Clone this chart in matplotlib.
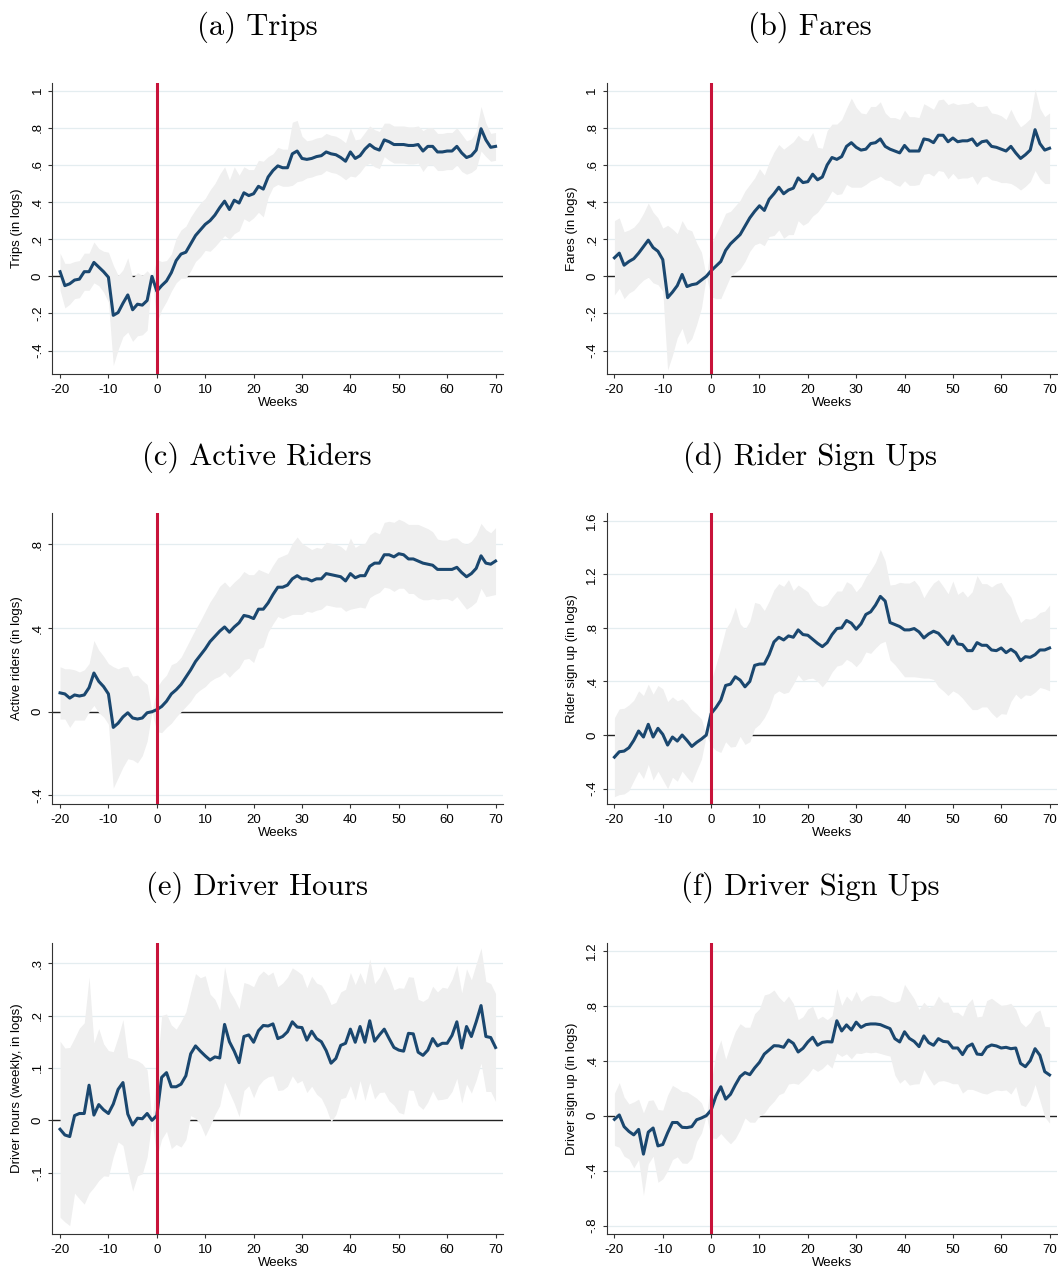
import numpy as np
import matplotlib
matplotlib.use("Agg")
import matplotlib.pyplot as plt

weeks = np.arange(-20, 71)

# (a) trips
trips_est = [0.025, -0.05, -0.04, -0.02, -0.015, 0.025, 0.025, 0.075, 0.05, 0.025,
             -0.005, -0.21, -0.195, -0.145, -0.10, -0.18, -0.15, -0.155, -0.13, 0.0,
             -0.08, -0.05, -0.025, 0.02, 0.085, 0.12, 0.13, 0.175, 0.22, 0.25,
             0.28, 0.30, 0.33, 0.37, 0.405, 0.36, 0.41, 0.395, 0.45, 0.435,
             0.445, 0.485, 0.47, 0.535, 0.57, 0.595, 0.585, 0.585, 0.66, 0.675,
             0.635, 0.63, 0.635, 0.645, 0.65, 0.67, 0.66, 0.655, 0.64, 0.62,
             0.67, 0.635, 0.65, 0.685, 0.71, 0.69, 0.68, 0.735, 0.725, 0.71,
             0.71, 0.71, 0.705, 0.705, 0.71, 0.675, 0.70, 0.70, 0.67, 0.67,
             0.675, 0.675, 0.70, 0.665, 0.64, 0.65, 0.68, 0.795, 0.735, 0.695,
             0.70]
trips_hw = [0.10, 0.12, 0.11, 0.10, 0.10, 0.10, 0.10, 0.11, 0.10, 0.11,
            0.135, 0.27, 0.20, 0.18, 0.20, 0.17, 0.17, 0.16, 0.16, 0.0,
            0.17, 0.13, 0.11, 0.10, 0.12, 0.13, 0.14, 0.145, 0.14, 0.145,
            0.14, 0.165, 0.17, 0.18, 0.185, 0.16, 0.18, 0.15, 0.14, 0.14,
            0.13, 0.14, 0.15, 0.11, 0.09, 0.10, 0.10, 0.10, 0.17, 0.165,
            0.12, 0.10, 0.10, 0.10, 0.10, 0.10, 0.10, 0.10, 0.10, 0.10,
            0.13, 0.10, 0.09, 0.09, 0.10, 0.10, 0.10, 0.09, 0.10, 0.10,
            0.10, 0.10, 0.10, 0.10, 0.10, 0.11, 0.10, 0.10, 0.10, 0.10,
            0.10, 0.10, 0.10, 0.10, 0.09, 0.09, 0.10, 0.12, 0.09, 0.075,
            0.075]

# (b) fares
fares_est = [0.10, 0.125, 0.06, 0.08, 0.095, 0.125, 0.16, 0.195, 0.155, 0.135,
             0.09, -0.115, -0.085, -0.05, 0.01, -0.055, -0.045, -0.04, -0.02, 0.0,
             0.03, 0.055, 0.08, 0.14, 0.175, 0.20, 0.225, 0.27, 0.315, 0.35,
             0.38, 0.355, 0.415, 0.445, 0.48, 0.445, 0.465, 0.475, 0.53, 0.505,
             0.51, 0.55, 0.52, 0.535, 0.60, 0.64, 0.63, 0.645, 0.70, 0.72,
             0.695, 0.68, 0.685, 0.715, 0.72, 0.74, 0.70, 0.685, 0.675, 0.665,
             0.705, 0.675, 0.675, 0.675, 0.74, 0.735, 0.72, 0.76, 0.76, 0.725,
             0.745, 0.725, 0.73, 0.73, 0.74, 0.705, 0.725, 0.73, 0.70, 0.695,
             0.685, 0.675, 0.70, 0.665, 0.635, 0.655, 0.68, 0.79, 0.715, 0.68,
             0.69]
fares_hw = [0.20, 0.19, 0.18, 0.17, 0.17, 0.17, 0.18, 0.20, 0.19, 0.18,
            0.17, 0.39, 0.34, 0.28, 0.29, 0.31, 0.29, 0.22, 0.15, 0.0,
            0.14, 0.175, 0.20, 0.20, 0.175, 0.18, 0.185, 0.19, 0.18, 0.18,
            0.20, 0.19, 0.20, 0.225, 0.23, 0.24, 0.24, 0.25, 0.23, 0.23,
            0.22, 0.225, 0.175, 0.155, 0.185, 0.18, 0.19, 0.20, 0.205, 0.24,
            0.215, 0.20, 0.19, 0.20, 0.195, 0.20, 0.18, 0.17, 0.18, 0.18,
            0.19, 0.185, 0.185, 0.18, 0.19, 0.18, 0.18, 0.19, 0.195, 0.20,
            0.19, 0.20, 0.20, 0.20, 0.20, 0.21, 0.19, 0.19, 0.18, 0.18,
            0.18, 0.17, 0.20, 0.18, 0.17, 0.17, 0.17, 0.22, 0.19, 0.18,
            0.19]

# (c) active riders
riders_est = [0.09, 0.085, 0.065, 0.08, 0.075, 0.08, 0.115, 0.185, 0.145, 0.12,
              0.085, -0.075, -0.055, -0.025, -0.005, -0.03, -0.035, -0.03, -0.005, 0.0,
              0.01, 0.025, 0.05, 0.085, 0.105, 0.13, 0.165, 0.20, 0.24, 0.27,
              0.30, 0.335, 0.36, 0.385, 0.405, 0.38, 0.405, 0.425, 0.46, 0.455,
              0.445, 0.49, 0.49, 0.52, 0.56, 0.595, 0.595, 0.605, 0.635, 0.65,
              0.635, 0.635, 0.625, 0.635, 0.635, 0.66, 0.655, 0.65, 0.645, 0.625,
              0.66, 0.64, 0.65, 0.65, 0.695, 0.71, 0.71, 0.75, 0.75, 0.74,
              0.755, 0.75, 0.73, 0.73, 0.72, 0.71, 0.705, 0.70, 0.68, 0.68,
              0.68, 0.68, 0.69, 0.665, 0.645, 0.66, 0.685, 0.745, 0.71, 0.705,
              0.72]
riders_hw = [0.125, 0.12, 0.14, 0.12, 0.115, 0.12, 0.115, 0.155, 0.15, 0.145,
             0.145, 0.29, 0.26, 0.24, 0.22, 0.20, 0.21, 0.18, 0.135, 0.0,
             0.105, 0.125, 0.125, 0.14, 0.13, 0.13, 0.14, 0.15, 0.155, 0.165,
             0.18, 0.19, 0.20, 0.215, 0.215, 0.215, 0.215, 0.215, 0.21, 0.20,
             0.21, 0.19, 0.18, 0.14, 0.14, 0.14, 0.15, 0.15, 0.17, 0.185,
             0.17, 0.155, 0.15, 0.15, 0.145, 0.15, 0.15, 0.15, 0.145, 0.145,
             0.17, 0.145, 0.15, 0.155, 0.15, 0.15, 0.14, 0.155, 0.16, 0.165,
             0.165, 0.16, 0.165, 0.165, 0.175, 0.175, 0.17, 0.16, 0.145, 0.14,
             0.14, 0.15, 0.14, 0.145, 0.155, 0.155, 0.16, 0.155, 0.16, 0.15,
             0.16]

# (d) rider sign ups
rsign_est = [-0.165, -0.125, -0.12, -0.095, -0.04, 0.03, -0.015, 0.08, -0.015, 0.05,
             0.005, -0.075, -0.015, -0.045, 0.0, -0.04, -0.085, -0.055, -0.03, 0.0,
             0.16, 0.205, 0.26, 0.37, 0.38, 0.435, 0.41, 0.36, 0.40, 0.52,
             0.53, 0.53, 0.60, 0.695, 0.73, 0.71, 0.74, 0.73, 0.785, 0.75,
             0.745, 0.715, 0.685, 0.66, 0.69, 0.75, 0.795, 0.80, 0.855, 0.835,
             0.79, 0.83, 0.90, 0.92, 0.97, 1.035, 1.0, 0.84, 0.825, 0.81,
             0.785, 0.785, 0.795, 0.77, 0.725, 0.755, 0.775, 0.76, 0.72, 0.675,
             0.74, 0.68, 0.675, 0.63, 0.63, 0.69, 0.67, 0.67, 0.635, 0.63,
             0.65, 0.615, 0.64, 0.615, 0.555, 0.585, 0.58, 0.60, 0.635, 0.635,
             0.65]
rsign_hw = [0.295, 0.32, 0.32, 0.32, 0.30, 0.30, 0.31, 0.30, 0.32, 0.32,
            0.34, 0.325, 0.30, 0.30, 0.27, 0.275, 0.27, 0.21, 0.15, 0.0,
            0.24, 0.32, 0.39, 0.42, 0.47, 0.52, 0.42, 0.43, 0.45, 0.47,
            0.45, 0.40, 0.40, 0.39, 0.40, 0.40, 0.42, 0.35, 0.335, 0.345,
            0.325, 0.29, 0.285, 0.30, 0.285, 0.28, 0.28, 0.275, 0.29, 0.29,
            0.28, 0.28, 0.28, 0.31, 0.32, 0.35, 0.30, 0.28, 0.30, 0.33,
            0.35, 0.35, 0.36, 0.34, 0.30, 0.33, 0.36, 0.40, 0.39, 0.38,
            0.41, 0.37, 0.40, 0.40, 0.44, 0.50, 0.46, 0.46, 0.47, 0.50,
            0.49, 0.46, 0.39, 0.31, 0.285, 0.285, 0.285, 0.28, 0.28, 0.29,
            0.32]

# (e) driver hours
hours_est = [-0.017, -0.028, -0.031, 0.009, 0.013, 0.013, 0.067, 0.01, 0.03, 0.02,
             0.013, 0.031, 0.059, 0.072, 0.012, -0.009, 0.004, 0.003, 0.013, 0.0,
             0.009, 0.082, 0.091, 0.064, 0.064, 0.069, 0.085, 0.127, 0.142, 0.132,
             0.123, 0.115, 0.121, 0.119, 0.183, 0.15, 0.132, 0.11, 0.16, 0.163,
             0.149, 0.171, 0.181, 0.18, 0.184, 0.156, 0.16, 0.169, 0.188, 0.178,
             0.177, 0.153, 0.17, 0.156, 0.15, 0.133, 0.109, 0.118, 0.143, 0.147,
             0.174, 0.149, 0.179, 0.149, 0.19, 0.151, 0.163, 0.174, 0.156, 0.139,
             0.134, 0.132, 0.166, 0.165, 0.13, 0.124, 0.134, 0.156, 0.142, 0.147,
             0.147, 0.162, 0.188, 0.138, 0.179, 0.16, 0.188, 0.219, 0.16, 0.158,
             0.139]
hours_hw = [0.168, 0.166, 0.17, 0.148, 0.163, 0.173, 0.206, 0.138, 0.145, 0.126,
            0.12, 0.10, 0.10, 0.12, 0.108, 0.126, 0.11, 0.105, 0.083, 0.0,
            0.08, 0.118, 0.112, 0.118, 0.11, 0.12, 0.122, 0.118, 0.138, 0.14,
            0.153, 0.126, 0.11, 0.091, 0.11, 0.097, 0.10, 0.103, 0.103, 0.097,
            0.106, 0.105, 0.104, 0.097, 0.099, 0.099, 0.102, 0.104, 0.103, 0.107,
            0.101, 0.10, 0.105, 0.106, 0.108, 0.11, 0.112, 0.107, 0.102, 0.103,
            0.108, 0.11, 0.103, 0.111, 0.118, 0.11, 0.11, 0.12, 0.119, 0.11,
            0.119, 0.12, 0.108, 0.108, 0.101, 0.103, 0.099, 0.10, 0.103, 0.107,
            0.105, 0.107, 0.108, 0.105, 0.11, 0.108, 0.111, 0.11, 0.105, 0.103,
            0.103]

# (f) driver sign ups
dsign_est = [-0.027, 0.005, -0.08, -0.115, -0.14, -0.10, -0.28, -0.12, -0.09, -0.22,
             -0.21, -0.125, -0.05, -0.05, -0.085, -0.087, -0.08, -0.03, -0.017, 0.0,
             0.04, 0.143, 0.21, 0.12, 0.155, 0.223, 0.284, 0.313, 0.298, 0.347,
             0.388, 0.448, 0.478, 0.509, 0.507, 0.497, 0.55, 0.526, 0.463, 0.49,
             0.536, 0.57, 0.512, 0.533, 0.538, 0.536, 0.69, 0.616, 0.66, 0.623,
             0.68, 0.642, 0.662, 0.667, 0.667, 0.662, 0.647, 0.633, 0.56, 0.536,
             0.61, 0.562, 0.54, 0.502, 0.58, 0.531, 0.512, 0.56, 0.54, 0.536,
             0.492, 0.492, 0.444, 0.502, 0.521, 0.448, 0.444, 0.497, 0.514, 0.507,
             0.492, 0.497, 0.487, 0.492, 0.38, 0.356, 0.40, 0.487, 0.439, 0.32,
             0.296]
dsign_hw = [0.19, 0.235, 0.215, 0.20, 0.24, 0.22, 0.30, 0.23, 0.205, 0.265,
            0.25, 0.275, 0.27, 0.25, 0.26, 0.26, 0.23, 0.157, 0.11, 0.0,
            0.20, 0.31, 0.34, 0.29, 0.36, 0.39, 0.385, 0.33, 0.345, 0.395,
            0.39, 0.43, 0.41, 0.405, 0.355, 0.33, 0.32, 0.29, 0.235, 0.23,
            0.24, 0.225, 0.19, 0.19, 0.16, 0.19, 0.235, 0.185, 0.21, 0.21,
            0.225, 0.19, 0.20, 0.21, 0.205, 0.21, 0.205, 0.20, 0.265, 0.30,
            0.345, 0.34, 0.31, 0.27, 0.245, 0.255, 0.29, 0.31, 0.285, 0.29,
            0.26, 0.26, 0.28, 0.31, 0.33, 0.27, 0.28, 0.34, 0.34, 0.32,
            0.31, 0.31, 0.33, 0.28, 0.30, 0.29, 0.28, 0.26, 0.33, 0.33,
            0.35]

titles = ["(a) Trips", "(b) Fares", "(c) Active Riders",
          "(d) Rider Sign Ups", "(e) Driver Hours", "(f) Driver Sign Ups"]
ylabels = ["Trips (in logs)", "Fares (in logs)", "Active riders (in logs)",
           "Rider sign up (in logs)", "Driver hours (weekly, in logs)",
           "Driver sign up (in logs)"]
yticks = [[1, 0.8, 0.6, 0.4, 0.2, 0, -0.2, -0.4],
          [1, 0.8, 0.6, 0.4, 0.2, 0, -0.2, -0.4],
          [0.8, 0.4, 0, -0.4],
          [1.6, 1.2, 0.8, 0.4, 0, -0.4],
          [0.3, 0.2, 0.1, 0, -0.1],
          [1.2, 0.8, 0.4, 0, -0.4, -0.8]]
ytick_labels = [["1", ".8", ".6", ".4", ".2", "0", "-.2", "-.4"],
                ["1", ".8", ".6", ".4", ".2", "0", "-.2", "-.4"],
                [".8", ".4", "0", "-.4"],
                ["1.6", "1.2", ".8", ".4", "0", "-.4"],
                [".3", ".2", ".1", "0", "-.1"],
                ["1.2", ".8", ".4", "0", "-.4", "-.8"]]
xticks = [-20, -10, 0, 10, 20, 30, 40, 50, 60, 70]
ylims = [(-0.526, 1.043), (-0.526, 1.043), (-0.441, 0.951),
         (-0.515, 1.66), (-0.217, 0.339), (-0.861, 1.258)]

estimates = [trips_est, fares_est, riders_est, rsign_est, hours_est, dsign_est]
halfwidths = [trips_hw, fares_hw, riders_hw, rsign_hw, hours_hw, dsign_hw]

NAVY = "#1A476F"
RED = "#C8133A"
BAND = "#EFEFEF"
GRID = "#E4EDF0"
SANS = "Liberation Sans"

W, H = 1058, 1268
fig = plt.figure(figsize=(W / 100, H / 100), dpi=100)

col_left = [52.3, 606.7]
col_right = [503.3, 1057.3]
row_top = [82.7, 512.7, 942.7]
row_bottom = [374, 804, 1234]
title_x = [257, 810]
title_y = [27, 457, 887]


def draw_panel(ax, est, hw, yt, ytl, ylim, ylabel):
    est = np.array(est)
    hw = np.array(hw)
    ax.set_xlim(-21.6, 71.6)
    ax.set_ylim(*ylim)
    for v in yt:
        if v != 0:
            ax.axhline(v, color=GRID, lw=0.9, zorder=0)
    ax.axhline(0, color="#222222", lw=1.0, zorder=1)
    ax.fill_between(weeks, est - hw, est + hw, color=BAND, lw=0, zorder=2)
    ax.plot(weeks, est, color=NAVY, lw=2.2, zorder=3)
    ax.axvline(0, color=RED, lw=2.2, zorder=4)

    ax.set_xticks(xticks)
    ax.set_xticklabels([str(t) for t in xticks], fontsize=9.5, fontfamily=SANS)
    ax.set_yticks(yt)
    ax.set_yticklabels(ytl, fontsize=9.5, fontfamily=SANS, rotation=90, va="center")
    ax.tick_params(axis="both", direction="out", length=3, width=0.8, color="#333333")
    ax.tick_params(axis="x", pad=4)
    ax.tick_params(axis="y", pad=3)
    for s in ["top", "right"]:
        ax.spines[s].set_visible(False)
    for s in ["left", "bottom"]:
        ax.spines[s].set_linewidth(0.8)
        ax.spines[s].set_color("#333333")
    ax.set_xlabel("Weeks", fontsize=9.5, fontfamily=SANS, labelpad=1)
    ax.set_ylabel(ylabel, fontsize=9.5, fontfamily=SANS)
    ax.yaxis.set_label_coords(-29 / 451, 0.5)


for i in range(6):
    r, c = divmod(i, 2)
    left = col_left[c] / W
    bottom = 1 - row_bottom[r] / H
    width = (col_right[c] - col_left[c]) / W
    height = (row_bottom[r] - row_top[r]) / H
    ax = fig.add_axes([left, bottom, width, height])
    draw_panel(ax, estimates[i], halfwidths[i], yticks[i], ytick_labels[i],
               ylims[i], ylabels[i])
    fig.text(title_x[c] / W, 1 - title_y[r] / H, titles[i], fontsize=22,
             fontfamily="cmr10", ha="center", va="center")

fig.savefig("out.png", dpi=100)
